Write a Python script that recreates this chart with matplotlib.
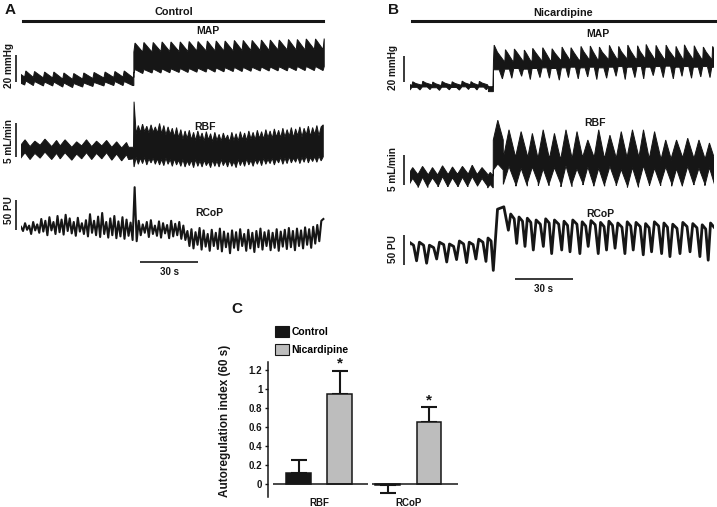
import numpy as np
import matplotlib
matplotlib.use('Agg')
import matplotlib.pyplot as plt
from matplotlib.patches import Patch

plt.rcParams['font.family'] = ['Liberation Sans', 'DejaVu Sans']
plt.rcParams['font.weight'] = 'bold'

INK = '#161616'
GREY = '#bdbdbd'
W, H = 717, 507
T_END = 157.3  # length of recordings shown (s)

# ---------------- panel A (control) traces ----------------
# MAP: forcing-cycle peaks (s) and upper / lower envelope (mmHg)
map_a_beats = [-2.6, 2.5, 7.0, 12.2, 17.0, 22.2, 27.3, 32.5, 37.8, 43.5, 48.6, 53.4, 58.4,
               59.0, 63.6, 68.4, 73.0, 77.6, 82.4, 87.0, 91.6, 96.4, 101.0, 105.6, 110.4,
               115.0, 119.6, 124.4, 129.0, 133.6, 138.4, 143.0, 147.6, 152.4, 156.9]
map_a_top_hi = [110.4, 110.4, 110.0, 109.6, 109.6, 108.9, 108.5, 108.9, 109.3, 109.6, 110.0, 110.4, 105.6,
                131.1, 131.5, 131.5, 131.9, 131.9, 131.9, 132.2, 132.2, 132.6, 132.6, 132.6, 133.0,
                133.0, 133.0, 133.3, 133.3, 133.3, 133.7, 133.7, 134.1, 134.1, 134.4]
map_a_top_lo = [105.9, 105.9, 105.6, 105.2, 105.2, 104.4, 104.1, 104.4, 104.8, 105.2, 105.6, 105.9, 105.6,
                124.4, 124.4, 124.4, 124.8, 124.8, 124.8, 124.8, 125.2, 125.2, 125.2, 125.2, 125.2,
                125.6, 125.6, 125.6, 125.6, 125.9, 125.9, 125.9, 125.9, 126.3, 126.3]
map_a_bot_hi = [103.0, 103.0, 102.6, 102.2, 102.2, 101.5, 101.1, 101.5, 101.9, 102.2, 102.6, 102.6, 99.6,
                111.5, 111.5, 111.9, 111.9, 112.0, 112.2, 112.2, 112.4, 112.6, 112.6, 112.8, 113.0,
                113.0, 113.1, 113.3, 113.3, 113.5, 113.5, 113.7, 113.7, 113.7, 113.7]
map_a_bot_lo = [100.0, 100.0, 99.6, 99.3, 99.3, 98.5, 98.1, 98.5, 98.9, 99.3, 99.6, 99.6, 99.6,
                108.5, 108.5, 108.9, 108.9, 109.1, 109.3, 109.3, 109.5, 109.6, 109.6, 109.8, 110.0,
                110.0, 110.2, 110.4, 110.4, 110.5, 110.5, 110.7, 110.7, 110.7, 110.7]

# RBF before the step: slow bumps (mL/min)
rbf_a_beats = [2.1, 7.2, 12.4, 18.4, 22.8, 28.8, 33.9, 39.1, 44.3, 49.5, 54.6, 58.2]
rbf_a_top_hi = [7.5, 7.3, 7.6, 7.4, 7.5, 7.2, 7.5, 7.3, 7.4, 7.2, 7.1, 6.4]
rbf_a_top_lo = [6.6, 6.5, 6.7, 6.5, 6.6, 6.4, 6.6, 6.5, 6.6, 6.4, 6.3, 6.4]
rbf_a_bot_hi = [5.6, 5.5, 5.7, 5.5, 5.6, 5.4, 5.6, 5.5, 5.6, 5.4, 5.3, 4.7]
rbf_a_bot_lo = [4.7, 4.6, 4.8, 4.6, 4.7, 4.5, 4.7, 4.6, 4.7, 4.5, 4.4, 4.6]
# RBF after the step, sampled every 1.1 s from 58.5 s
rbf_a_t0, rbf_a_dt = 58.5, 1.1
rbf_a_top = [13.1,
             8.4, 9.6, 8.6, 9.8, 8.7, 9.5, 8.5, 9.7, 8.6, 9.4,
             8.5, 9.9, 8.4, 9.6, 8.2, 9.4, 8.3, 9.2, 7.9, 9.3,
             7.8, 9.0, 7.6, 8.8, 7.7, 8.9, 7.5, 8.6, 7.4, 8.8,
             7.6, 8.5, 7.3, 8.7, 7.5, 8.4, 7.2, 8.6, 7.4, 8.3,
             7.3, 8.5, 7.5, 8.2, 7.2, 8.6, 7.4, 8.4, 7.3, 8.7,
             7.5, 8.5, 7.4, 8.8, 7.6, 8.6, 7.5, 8.9, 7.7, 8.7,
             7.6, 9.0, 7.8, 8.8, 7.7, 9.1, 7.9, 8.9, 7.8, 9.2,
             7.9, 9.0, 8.0, 9.3, 7.8, 9.1, 8.1, 9.4, 7.9, 9.2,
             8.2, 9.5, 8.0, 9.3, 8.3, 9.6, 8.1, 9.4, 9.7]
rbf_a_bot = [3.5,
             4.9, 3.9, 4.8, 4.0, 4.9, 3.8, 4.7, 4.1, 4.8, 3.9,
             4.7, 3.8, 4.6, 3.7, 4.8, 3.9, 4.6, 3.6, 4.7, 3.8,
             4.5, 3.6, 4.6, 3.5, 4.4, 3.7, 4.5, 3.4, 4.6, 3.6,
             4.4, 3.5, 4.5, 3.7, 4.3, 3.4, 4.5, 3.6, 4.4, 3.5,
             4.6, 3.7, 4.4, 3.5, 4.5, 3.6, 4.3, 3.4, 4.6, 3.7,
             4.5, 3.6, 4.7, 3.8, 4.5, 3.6, 4.6, 3.9, 4.7, 3.7,
             4.8, 3.9, 4.6, 4.0, 4.8, 3.8, 4.7, 4.1, 4.9, 3.9,
             4.8, 4.0, 5.0, 4.1, 4.8, 4.2, 5.0, 4.0, 4.9, 4.2,
             5.1, 4.1, 4.9, 4.3, 5.0, 4.2, 5.1, 4.4, 5.0]

# RCoP sampled every 1.05 s from 0 s (PU)
rcop_a_dt = 1.05
rcop_a = [102, 95, 108, 97, 104, 90, 110, 96, 106, 92,
          115, 94, 112, 88, 118, 96, 110, 90, 120, 93,
          114, 89, 122, 95, 116, 91, 110, 87, 117, 94,
          108, 90, 113, 86, 123, 92, 112, 88, 119, 85,
          125, 90, 110, 84, 116, 88, 120, 83, 111, 86,
          118, 82, 114, 87, 109, 80, 168, 78,
          112, 88, 106, 92, 110, 85, 113, 90, 104, 87,
          111, 84, 108, 91, 105, 83, 112, 86, 107, 88,
          110, 82, 104, 80,
          95, 70, 98, 66, 93, 72, 100, 64, 96, 69,
          90, 62, 97, 70, 92, 65, 99, 61, 94, 68,
          91, 58, 96, 67, 93, 63, 98, 70, 90, 62,
          97, 66, 92, 60, 95, 68, 99, 64, 93, 70,
          96, 63, 92, 67, 98, 62, 94, 69, 97, 65,
          100, 68, 95, 63, 99, 70, 96, 66, 101, 72,
          98, 67, 102, 74, 105, 78, 112, 115]

# ---------------- panel B (nicardipine) traces ----------------
# MAP: cycle onsets (s); valley / tip / plateau of upper edge, plateau / dip of lower edge (mmHg)
map_b_on = [-3.9, 1.1, 6.3, 11.5, 16.3, 21.5, 26.7, 31.3, 35.6, 40.6,
            43.2, 49.1, 53.7, 58.9, 63.2, 68.4, 73.2, 78.4, 83.0, 88.2, 93.0, 97.7,
            102.9, 107.7, 112.4, 117.5, 121.9, 127.0, 132.2, 137.4, 141.7, 146.8, 151.5, 156.3]
map_b_top_lo = [102.3, 102.3, 102.6, 102.0, 102.4, 102.2, 102.7, 102.3, 102.5, 101.0,
                121.0, 120.5, 121.0, 120.0, 121.5, 120.8, 121.5, 122.0, 121.0, 122.3, 121.5, 122.5,
                122.0, 123.0, 122.0, 123.0, 122.5, 122.0, 123.0, 122.0, 122.5, 122.0, 122.5, 122.0]
map_b_top_hi = [104.8, 104.8, 105.2, 104.6, 105.0, 104.8, 105.3, 104.9, 105.1, 101.0,
                133.0, 129.5, 130.0, 129.2, 130.5, 131.0, 130.2, 131.5, 131.0, 132.0, 132.3, 131.5,
                132.8, 132.0, 133.0, 132.5, 133.5, 132.8, 133.0, 132.0, 133.2, 132.5, 131.5, 132.0]
map_b_top_mid = [103.5, 103.5, 103.9, 103.3, 103.7, 103.5, 104.0, 103.6, 103.8, 101.0,
                 127.5, 126.5, 127.0, 126.2, 127.2, 127.5, 126.8, 127.8, 127.3, 128.0, 128.2, 127.5,
                 128.5, 128.0, 128.5, 128.2, 129.0, 128.5, 128.8, 128.0, 128.8, 128.3, 127.8, 128.0]
map_b_bot_hi = [100.5, 100.5, 100.8, 100.2, 100.6, 100.4, 100.9, 100.5, 100.7, 97.2,
                114.0, 114.5, 115.0, 114.5, 115.0, 115.5, 115.0, 115.5, 116.0, 115.5, 116.0, 115.5,
                116.0, 116.5, 116.0, 116.5, 116.0, 116.5, 116.8, 116.0, 116.5, 116.0, 116.5, 116.0]
map_b_bot_lo = [98.5, 98.5, 98.8, 98.2, 98.6, 98.4, 98.9, 98.5, 98.7, 97.2,
                107.0, 107.5, 109.0, 106.5, 108.0, 107.5, 106.0, 108.0, 107.0, 108.5, 106.5, 107.5,
                109.0, 106.5, 108.0, 107.0, 109.5, 108.0, 107.0, 109.0, 107.5, 108.5, 108.0, 108.5]

# RBF: cycle onsets (valleys, s); valley / peak of each edge (mL/min)
rbf_b_on = [-0.9, 4.2, 9.3, 14.5, 19.7, 24.8, 30.0, 34.9, 40.2,
            43.1, 48.3, 54.8, 60.8, 66.4, 72.0, 78.1, 83.9, 89.5, 95.1, 100.8,
            106.7, 112.5, 118.3, 123.9, 129.8, 135.4, 141.0, 147.0, 152.6, 157.8]
rbf_b_top_lo = [4.2, 4.3, 4.1, 4.3, 4.2, 4.4, 4.2, 4.3, 4.0,
                10.0, 7.0, 7.4, 6.8, 7.2, 6.6, 7.0, 6.9, 7.3, 6.7, 7.1,
                6.9, 7.4, 6.8, 7.0, 6.6, 7.2, 6.9, 7.0, 6.7, 7.0]
rbf_b_top_hi = [5.4, 5.6, 5.4, 5.7, 5.5, 5.6, 5.8, 5.4, 4.6,
                13.3, 11.7, 11.4, 11.1, 11.7, 11.1, 11.7, 11.4, 10.0, 11.7, 10.8,
                11.4, 11.7, 11.7, 11.4, 10.0, 10.0, 10.3, 10.0, 9.5, 10.0]
rbf_b_bot_lo = [2.3, 2.1, 2.4, 2.2, 2.3, 2.2, 2.4, 2.3, 2.0,
                5.0, 2.6, 2.3, 2.9, 2.4, 2.7, 2.2, 2.8, 2.5, 2.3, 2.7,
                2.4, 2.1, 2.6, 2.4, 2.8, 2.3, 2.5, 2.7, 2.4, 2.6]
rbf_b_bot_hi = [3.6, 3.8, 3.7, 3.9, 3.7, 3.8, 3.9, 3.6, 2.6,
                6.0, 5.6, 5.3, 5.5, 5.2, 5.4, 5.7, 5.2, 5.5, 5.3, 5.6,
                5.1, 5.4, 5.7, 5.3, 5.5, 5.2, 5.6, 5.3, 5.4, 5.3]

# RCoP: trough times (s); trough / plateau start / plateau end (PU)
rcop_b_on = [-1.8, 3.4, 8.6, 13.8, 19.0, 24.1, 29.3, 34.1, 39.3, 43.1,
             50.9, 55.2, 59.5, 63.8, 69.0, 73.3, 78.5, 82.8, 87.9, 92.2, 97.4, 101.7,
             106.1, 111.2, 115.5, 120.7, 125.0, 130.2, 134.5, 139.7, 144.9, 150.0, 154.3]
rcop_b_tr = [82, 82, 78, 85, 80, 84, 79, 85, 81, 66,
             133, 111, 106, 100, 106, 94, 100, 97, 94, 106, 94, 100,
             103, 94, 100, 92, 97, 94, 89, 94, 97, 89, 83]
rcop_b_top = [113, 113, 108, 113, 110, 115, 113, 118, 120, 168,
              160, 155, 153, 150, 152, 150, 148, 150, 147, 149, 146, 148,
              145, 147, 146, 144, 147, 145, 143, 146, 144, 142, 145]
rcop_b_mid = [108, 108, 104, 109, 106, 110, 109, 113, 115, 172,
              152, 148, 146, 143, 145, 143, 141, 143, 140, 142, 139, 141,
              138, 140, 139, 137, 140, 138, 136, 139, 137, 135, 138]

# ---------------- panel C ----------------
groups = ['RBF', 'RCoP']
ctrl_mean = [0.12, -0.01]
ctrl_sem = [0.13, 0.09]
nic_mean = [0.95, 0.65]
nic_sem = [0.24, 0.16]
y_ticks = [0, 0.2, 0.4, 0.6, 0.8, 1.0, 1.2]
y_tick_labels = ['0', '0.2', '0.4', '0.6', '0.8', '1', '1.2']


fig = plt.figure(figsize=(W / 100, H / 100), dpi=100)


def px_ax(x0, y0, x1, y1):
    ax = fig.add_axes([x0 / W, 1 - y1 / H, (x1 - x0) / W, (y1 - y0) / H])
    ax.patch.set_visible(False)
    return ax


def ftext(x, y, s, size=7.5, **kw):
    fig.text(x / W, 1 - y / H, s, ha='center', va='center', fontsize=size,
             fontweight='bold', color=INK, **kw)


def trace_ax(x0, x1, y0, y1, ref_px, ref_val, px_per):
    ax = px_ax(x0, y0, x1, y1)
    ax.set_xlim(0, T_END)
    ax.set_ylim(ref_val - (y1 - ref_px) / px_per, ref_val + (ref_px - y0) / px_per)
    ax.axis('off')
    return ax


def saw(beats, hi, lo, rise):
    t, v = [], []
    for b, h, l in zip(beats, hi, lo):
        t += [b - rise, b]
        v += [l, h]
    return t, v


def cycles(onsets, fracs, *levels):
    # one vertex per (fraction of the cycle, per-cycle level list)
    t, v = [], []
    for i, b in enumerate(onsets):
        nxt = onsets[i + 1] if i + 1 < len(onsets) else 2 * b - onsets[i - 1]
        for f, lv in zip(fracs, levels):
            t.append(b + f * (nxt - b))
            v.append(lv[i])
    return t, v


def sampled(t0, dt, vals):
    return list(t0 + dt * np.arange(len(vals))), list(vals)


def join(*segs):
    t, v = [], []
    for st, sv in segs:
        t += list(st)
        v += list(sv)
    return t, v


def band(ax, top, bot):
    (tt, vt), (tb, vb) = top, bot
    ax.fill(tt + tb[::-1], vt + vb[::-1], facecolor=INK, edgecolor=INK, lw=0.7)


def vbar(ax, t, v0, size):
    ax.plot([t, t], [v0, v0 + size], color=INK, lw=1.2, clip_on=False, solid_capstyle='butt')


def hbar(ax, t0, size, v):
    ax.plot([t0, t0 + size], [v, v], color=INK, lw=1.2, clip_on=False, solid_capstyle='butt')


# ---- panel A ----
ax = trace_ax(21, 325, 25, 100, 85, 100, 1.35)
band(ax, saw(map_a_beats, map_a_top_hi, map_a_top_lo, 0.6),
     saw(map_a_beats, map_a_bot_hi, map_a_bot_lo, 0.6))
vbar(ax, -2.6, 102.2, 20)

ax = trace_ax(21, 325, 95, 180, 150, 6, 6.8)
band(ax, join(saw(rbf_a_beats, rbf_a_top_hi, rbf_a_top_lo, 2.5), sampled(rbf_a_t0, rbf_a_dt, rbf_a_top)),
     join(saw(rbf_a_beats, rbf_a_bot_hi, rbf_a_bot_lo, 2.5), sampled(rbf_a_t0, rbf_a_dt, rbf_a_bot)))
vbar(ax, -2.6, 4.97, 5)

ax = trace_ax(21, 325, 180, 258, 228, 100, 0.6)
t, v = sampled(0, rcop_a_dt, rcop_a)
ax.plot(t, v, color=INK, lw=1.5, solid_joinstyle='round')
vbar(ax, -2.6, 96.7, 50)
hbar(ax, 61.6, 30, 43.3)

# ---- panel B ----
ax = trace_ax(410, 714, 25, 100, 88, 100, 1.3)
band(ax, cycles(map_b_on, (0, 0.06, 0.35, 0.9),
                map_b_top_lo, map_b_top_hi, map_b_top_mid, map_b_top_lo),
     cycles(map_b_on, (0, 0.5, 0.78, 0.98), map_b_bot_hi, map_b_bot_hi, map_b_bot_lo, map_b_bot_hi))
vbar(ax, -3.1, 104.6, 20)

ax = trace_ax(410, 714, 100, 195, 170, 5, 6.0)
band(ax, cycles(rbf_b_on, (0, 0.45, 0.99), rbf_b_top_lo, rbf_b_top_hi, rbf_b_top_lo),
     cycles(rbf_b_on, (0, 0.45, 0.99), rbf_b_bot_lo, rbf_b_bot_hi, rbf_b_bot_lo))
vbar(ax, -3.1, 2.5, 5)

ax = trace_ax(410, 714, 195, 278, 250, 100, 0.6)
t, v = cycles(rcop_b_on, (0, 0.28, 0.7), rcop_b_tr, rcop_b_top, rcop_b_mid)
ax.plot(t, v, color=INK, lw=2.0, solid_joinstyle='round')
vbar(ax, -3.1, 75, 50)
hbar(ax, 54.3, 30, 51.7)

# header bars and labels
fig.add_artist(plt.Line2D([23 / W, 323 / W], [1 - 20.7 / H] * 2, color=INK, lw=2.2))
fig.add_artist(plt.Line2D([412 / W, 715 / W], [1 - 20.7 / H] * 2, color=INK, lw=2.2))
ftext(10, 10, 'A', 11)
ftext(174, 12, 'Control', 7.8)
ftext(393, 10, 'B', 11)
ftext(563, 12.5, 'Nicardipine', 7.8)
for x, y, s in [(207.5, 31.5, 'MAP'), (205, 126.5, 'RBF'), (209, 212.5, 'RCoP'),
                (598, 34, 'MAP'), (595, 122.5, 'RBF'), (600, 214, 'RCoP')]:
    ftext(x, y, s, 7.5)
for x, y, s in [(9.5, 65, '20 mmHg'), (9, 141, '5 mL/min'), (9, 210, '50 PU'),
                (393, 67.5, '20 mmHg'), (393, 169, '5 mL/min'), (393, 249, '50 PU')]:
    ftext(x, y, s, 7.2, rotation=90)
ftext(169, 272, '30 s', 7)
ftext(544, 289, '30 s', 7)

# ---- panel C ----
axc = px_ax(268, 361.7, 458, 496.7)
x = np.arange(len(groups))
off, width = 0.23, 0.28
axc.set_xlim(-0.574, 1.555)
axc.set_ylim(-0.134, 1.287)
axc.bar(x - off, ctrl_mean, width, color=INK, edgecolor=INK, lw=1.1, zorder=2)
axc.bar(x + off, nic_mean, width, color=GREY, edgecolor=INK, lw=1.1, zorder=2)
for xs, m, e in [(x - off, ctrl_mean, ctrl_sem), (x + off, nic_mean, nic_sem)]:
    lo = [s if v < 0 else 0 for v, s in zip(m, e)]
    hi = [s if v >= 0 else 0 for v, s in zip(m, e)]
    axc.errorbar(xs, m, yerr=[lo, hi], fmt='none', ecolor=INK, elinewidth=1.5,
                 capsize=6, capthick=1.5, zorder=1)
for xi, m, e in zip(x + off, nic_mean, nic_sem):
    axc.text(xi, m + e, '*', ha='center', va='bottom', fontsize=11, fontweight='bold', color=INK)
axc.hlines([0, 0], [-0.518, 0.591], [0.546, 1.555], color=INK, lw=1.1, zorder=3)
for sp in ['top', 'right', 'bottom']:
    axc.spines[sp].set_visible(False)
axc.spines['left'].set_linewidth(1.1)
axc.spines['left'].set_color(INK)
axc.set_yticks(y_ticks)
axc.set_yticklabels(y_tick_labels)
axc.set_xticks(x)
axc.set_xticklabels(groups)
axc.tick_params(axis='y', length=2.5, width=1, pad=1.5, labelsize=7, colors=INK)
axc.tick_params(axis='x', length=0, pad=1, labelsize=7, colors=INK)
axc.set_ylabel('Autoregulation index (60 s)', fontsize=8.5, fontweight='bold', color=INK)
axc.yaxis.set_label_coords(-0.195, 0.56)
axc.legend(handles=[Patch(facecolor=INK, edgecolor=INK, lw=0.8),
                    Patch(facecolor=GREY, edgecolor=INK, lw=0.8)],
           labels=['Control', 'Nicardipine'], loc='upper left',
           bbox_to_anchor=(275 / W, 1 - 326 / H), bbox_transform=fig.transFigure,
           frameon=False, prop={'size': 7.5, 'weight': 'bold'}, handlelength=1.3,
           handleheight=1.3, handletextpad=0.3, labelspacing=0.6, borderpad=0,
           borderaxespad=0)
ftext(237, 309, 'C', 11)

fig.savefig('out.png', dpi=100)
